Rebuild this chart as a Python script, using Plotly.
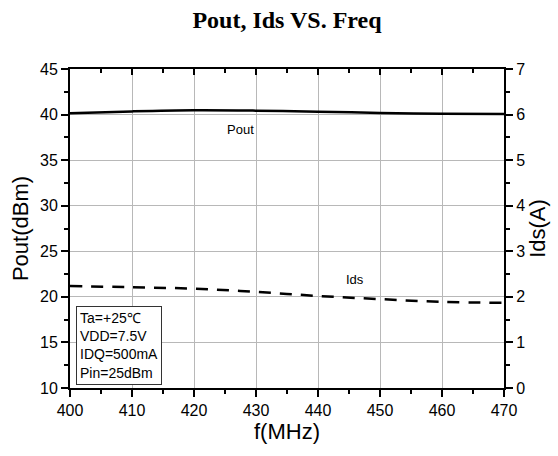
import plotly.graph_objects as go

# Frequency sweep (MHz)
freq = [400, 410, 420, 430, 440, 450, 460, 470]
# Output power (dBm)
pout = [40.15, 40.35, 40.47, 40.43, 40.32, 40.18, 40.10, 40.07]
# Drain current (A)
ids = [2.24, 2.21, 2.18, 2.11, 2.02, 1.95, 1.89, 1.87]

conditions = ["Ta=+25℃", "VDD=7.5V", "IDQ=500mA", "Pin=25dBm"]

sans = "Arial, Liberation Sans, sans-serif"
serif = "Times New Roman, Liberation Serif, serif"

fig = go.Figure()

fig.add_trace(go.Scatter(
    x=freq, y=pout, mode="lines", name="Pout",
    line=dict(color="black", width=2.5, shape="spline"),
    showlegend=False,
))
fig.add_trace(go.Scatter(
    x=freq, y=ids, mode="lines", name="Ids", yaxis="y2",
    line=dict(color="black", width=2.5, dash="12px,9px", shape="spline"),
    showlegend=False,
))
# empty trace so the top frame axis gets drawn
fig.add_trace(go.Scatter(x=[], y=[], xaxis="x2", showlegend=False, hoverinfo="skip"))

tick_font = dict(family=sans, size=16, color="black")
title_font = dict(family=sans, size=22, color="black")

fig.update_layout(
    width=558, height=456,
    margin=dict(l=70, r=50, t=69, b=68),
    paper_bgcolor="white", plot_bgcolor="white",
    title=dict(
        text="<b>Pout, Ids VS. Freq</b>",
        font=dict(family=serif, size=24, color="black"),
        x=0.5, xref="paper", xanchor="center",
        y=1 - 20 / 456, yref="container", yanchor="middle",
    ),
    xaxis=dict(
        range=[400, 470], dtick=10, tick0=400,
        showline=True, linecolor="black", linewidth=2,
        ticks="outside", ticklen=7, tickwidth=2, tickcolor="black",
        minor=dict(dtick=5, ticks="outside", ticklen=4, tickwidth=2,
                   tickcolor="black", showgrid=False),
        showgrid=True, gridcolor="#b8b8b8", gridwidth=1,
        zeroline=False, tickfont=tick_font,
        title=dict(text="f(MHz)", font=title_font, standoff=4),
    ),
    xaxis2=dict(
        range=[400, 470], dtick=10, tick0=400,
        overlaying="x", side="top", anchor="y",
        showline=True, linecolor="black", linewidth=2,
        ticks="inside", ticklen=6, tickwidth=2, tickcolor="black",
        minor=dict(dtick=5, ticks="inside", ticklen=4, tickwidth=2,
                   tickcolor="black", showgrid=False),
        showticklabels=False, showgrid=False, zeroline=False,
    ),
    yaxis=dict(
        range=[10, 45], dtick=5, tick0=10,
        showline=True, linecolor="black", linewidth=2,
        ticks="outside", ticklen=7, tickwidth=2, tickcolor="black",
        minor=dict(dtick=2.5, ticks="outside", ticklen=4, tickwidth=2,
                   tickcolor="black", showgrid=False),
        showgrid=True, gridcolor="#b8b8b8", gridwidth=1,
        zeroline=False, tickfont=tick_font,
        title=dict(text="Pout(dBm)", font=title_font, standoff=5),
    ),
    yaxis2=dict(
        range=[0, 7], dtick=1, tick0=0,
        overlaying="y", side="right", anchor="x",
        showline=True, linecolor="black", linewidth=2,
        ticks="outside", ticklen=7, tickwidth=2, tickcolor="black",
        minor=dict(dtick=0.5, ticks="outside", ticklen=4, tickwidth=2,
                   tickcolor="black", showgrid=False),
        showgrid=False, zeroline=False, tickfont=tick_font,
        title=dict(text="Ids(A)", font=title_font, standoff=5),
    ),
)

# curve labels
fig.add_annotation(x=427.5, y=38.4, xref="x", yref="y", text="Pout",
                   showarrow=False, font=dict(family=sans, size=13, color="black"))
fig.add_annotation(x=446, y=21.95, xref="x", yref="y", text="Ids",
                   showarrow=False, font=dict(family=sans, size=13, color="black"))

# test conditions box
fig.add_annotation(
    x=6 / 438, y=(388 - 306) / 319, xref="paper", yref="paper",
    xanchor="left", yanchor="top", align="left", showarrow=False,
    text="<br>".join(conditions),
    font=dict(family=sans, size=14, color="black"),
    bgcolor="white", bordercolor="#333333", borderwidth=1, borderpad=3,
)

fig.write_html("out.html")
